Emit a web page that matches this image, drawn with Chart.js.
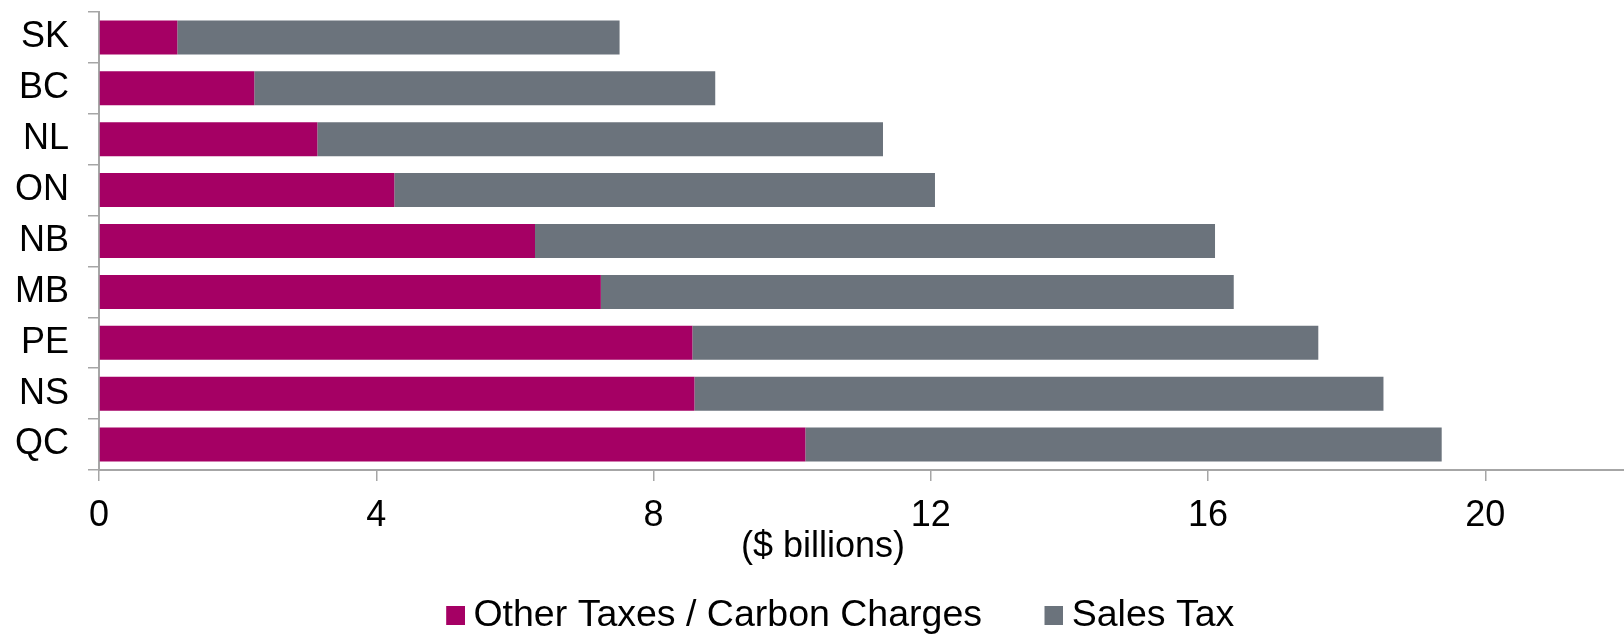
<!DOCTYPE html>
<html>
<head>
<meta charset="utf-8">
<script src="https://cdn.jsdelivr.net/npm/chart.js@4.4.1/dist/chart.umd.min.js"></script>
<style>
  html, body { margin: 0; padding: 0; background: #ffffff; }
  #wrap { width: 1624px; height: 635px; position: relative; }
</style>
</head>
<body>
<div id="wrap"><canvas id="c"></canvas></div>
<script>
const provinces = ['SK', 'BC', 'NL', 'ON', 'NB', 'MB', 'PE', 'NS', 'QC'];
const otherTaxes = [1.13, 2.24, 3.15, 4.26, 6.29, 7.24, 8.56, 8.59, 10.19];
const salesTax = [6.38, 6.65, 8.16, 7.80, 9.81, 9.13, 9.03, 9.94, 9.18];
const seriesNames = ['Other Taxes / Carbon Charges', 'Sales Tax'];
const seriesColors = ['#A50064', '#6B737C'];
const xTicks = [0, 4, 8, 12, 16, 20];
const xTitle = '($ billions)';

const FONT = 'Liberation Sans, Arial, Helvetica, sans-serif';
const AXIS = '#A6A6A6';
const LEG_FONT = 37.5;
const LEG_PAD = 54;
const SW = 19;

// legend swatch: square drawn right of the image centre so it sits close to its text
function makeSwatch(color) {
  const c = document.createElement('canvas');
  c.width = SW * 2; c.height = SW;
  const g = c.getContext('2d');
  g.fillStyle = color;
  g.fillRect(SW, 0, SW, SW);
  return c;
}
const swatches = seriesColors.map(makeSwatch);

const shiftPlugin = {
  id: 'shiftBlocks',
  afterLayout(chart) {
    const lg = chart.legend;
    if (lg) {
      lg.left += 24; lg.right += 24;
      const dy = (615.5 - LEG_FONT / 2 - LEG_PAD) - lg.top;
      lg.top += dy; lg.bottom += dy;
    }
    const tb = chart.titleBlock;
    if (tb) {
      tb.left += 11; tb.right += 11;
      const dy = 529 - tb.top;
      tb.top += dy; tb.bottom += dy;
    }
  }
};

new Chart(document.getElementById('c'), {
  type: 'bar',
  data: {
    labels: provinces,
    datasets: [
      { label: seriesNames[0], data: otherTaxes, backgroundColor: seriesColors[0], borderWidth: 0 },
      { label: seriesNames[1], data: salesTax, backgroundColor: seriesColors[1], borderWidth: 0 }
    ]
  },
  options: {
    indexAxis: 'y',
    responsive: true,
    maintainAspectRatio: false,
    animation: false,
    barPercentage: 0.668,
    categoryPercentage: 1.0,
    layout: { padding: { top: 12, left: 0, right: 0, bottom: -54.5 } },
    scales: {
      x: {
        stacked: true,
        min: 0,
        max: 22,
        afterBuildTicks(scale) {
          scale.ticks = xTicks.map(v => ({ value: v }));
        },
        afterFit(scale) { scale.paddingLeft = 0; scale.paddingRight = 0; },
        grid: { drawOnChartArea: false, drawTicks: true, tickLength: 11, color: AXIS, lineWidth: 1.5 },
        border: { display: true, color: AXIS, width: 2 },
        ticks: { font: { family: FONT, size: 36, lineHeight: 1.0 }, color: '#000', padding: 17.5, maxRotation: 0, autoSkip: false }
      },
      y: {
        stacked: true,
        afterFit(scale) { scale.width = 99; scale.paddingTop = 0; scale.paddingBottom = 0; },
        grid: { offset: true, drawOnChartArea: false, drawTicks: true, tickLength: 11, color: AXIS, lineWidth: 1.5 },
        border: { display: true, color: AXIS, width: 2 },
        ticks: { font: { family: FONT, size: 36, lineHeight: 1.0 }, color: '#000', padding: 19, autoSkip: false }
      }
    },
    plugins: {
      tooltip: { enabled: false },
      title: {
        display: true,
        text: xTitle,
        position: 'bottom',
        weight: 500,
        fullSize: true,
        color: '#000',
        font: { family: FONT, size: 36, weight: 'normal', lineHeight: 1.0 },
        padding: { top: 0, bottom: 0 }
      },
      legend: {
        position: 'bottom',
        fullSize: true,
        labels: {
          font: { family: FONT, size: LEG_FONT },
          color: '#000',
          usePointStyle: true,
          pointStyleWidth: 17,
          boxHeight: SW,
          padding: LEG_PAD,
          generateLabels(chart) {
            const items = Chart.defaults.plugins.legend.labels.generateLabels(chart);
            items.forEach((it, i) => { it.pointStyle = swatches[i]; });
            return items;
          }
        }
      }
    }
  },
  plugins: [shiftPlugin]
});
</script>
</body>
</html>
